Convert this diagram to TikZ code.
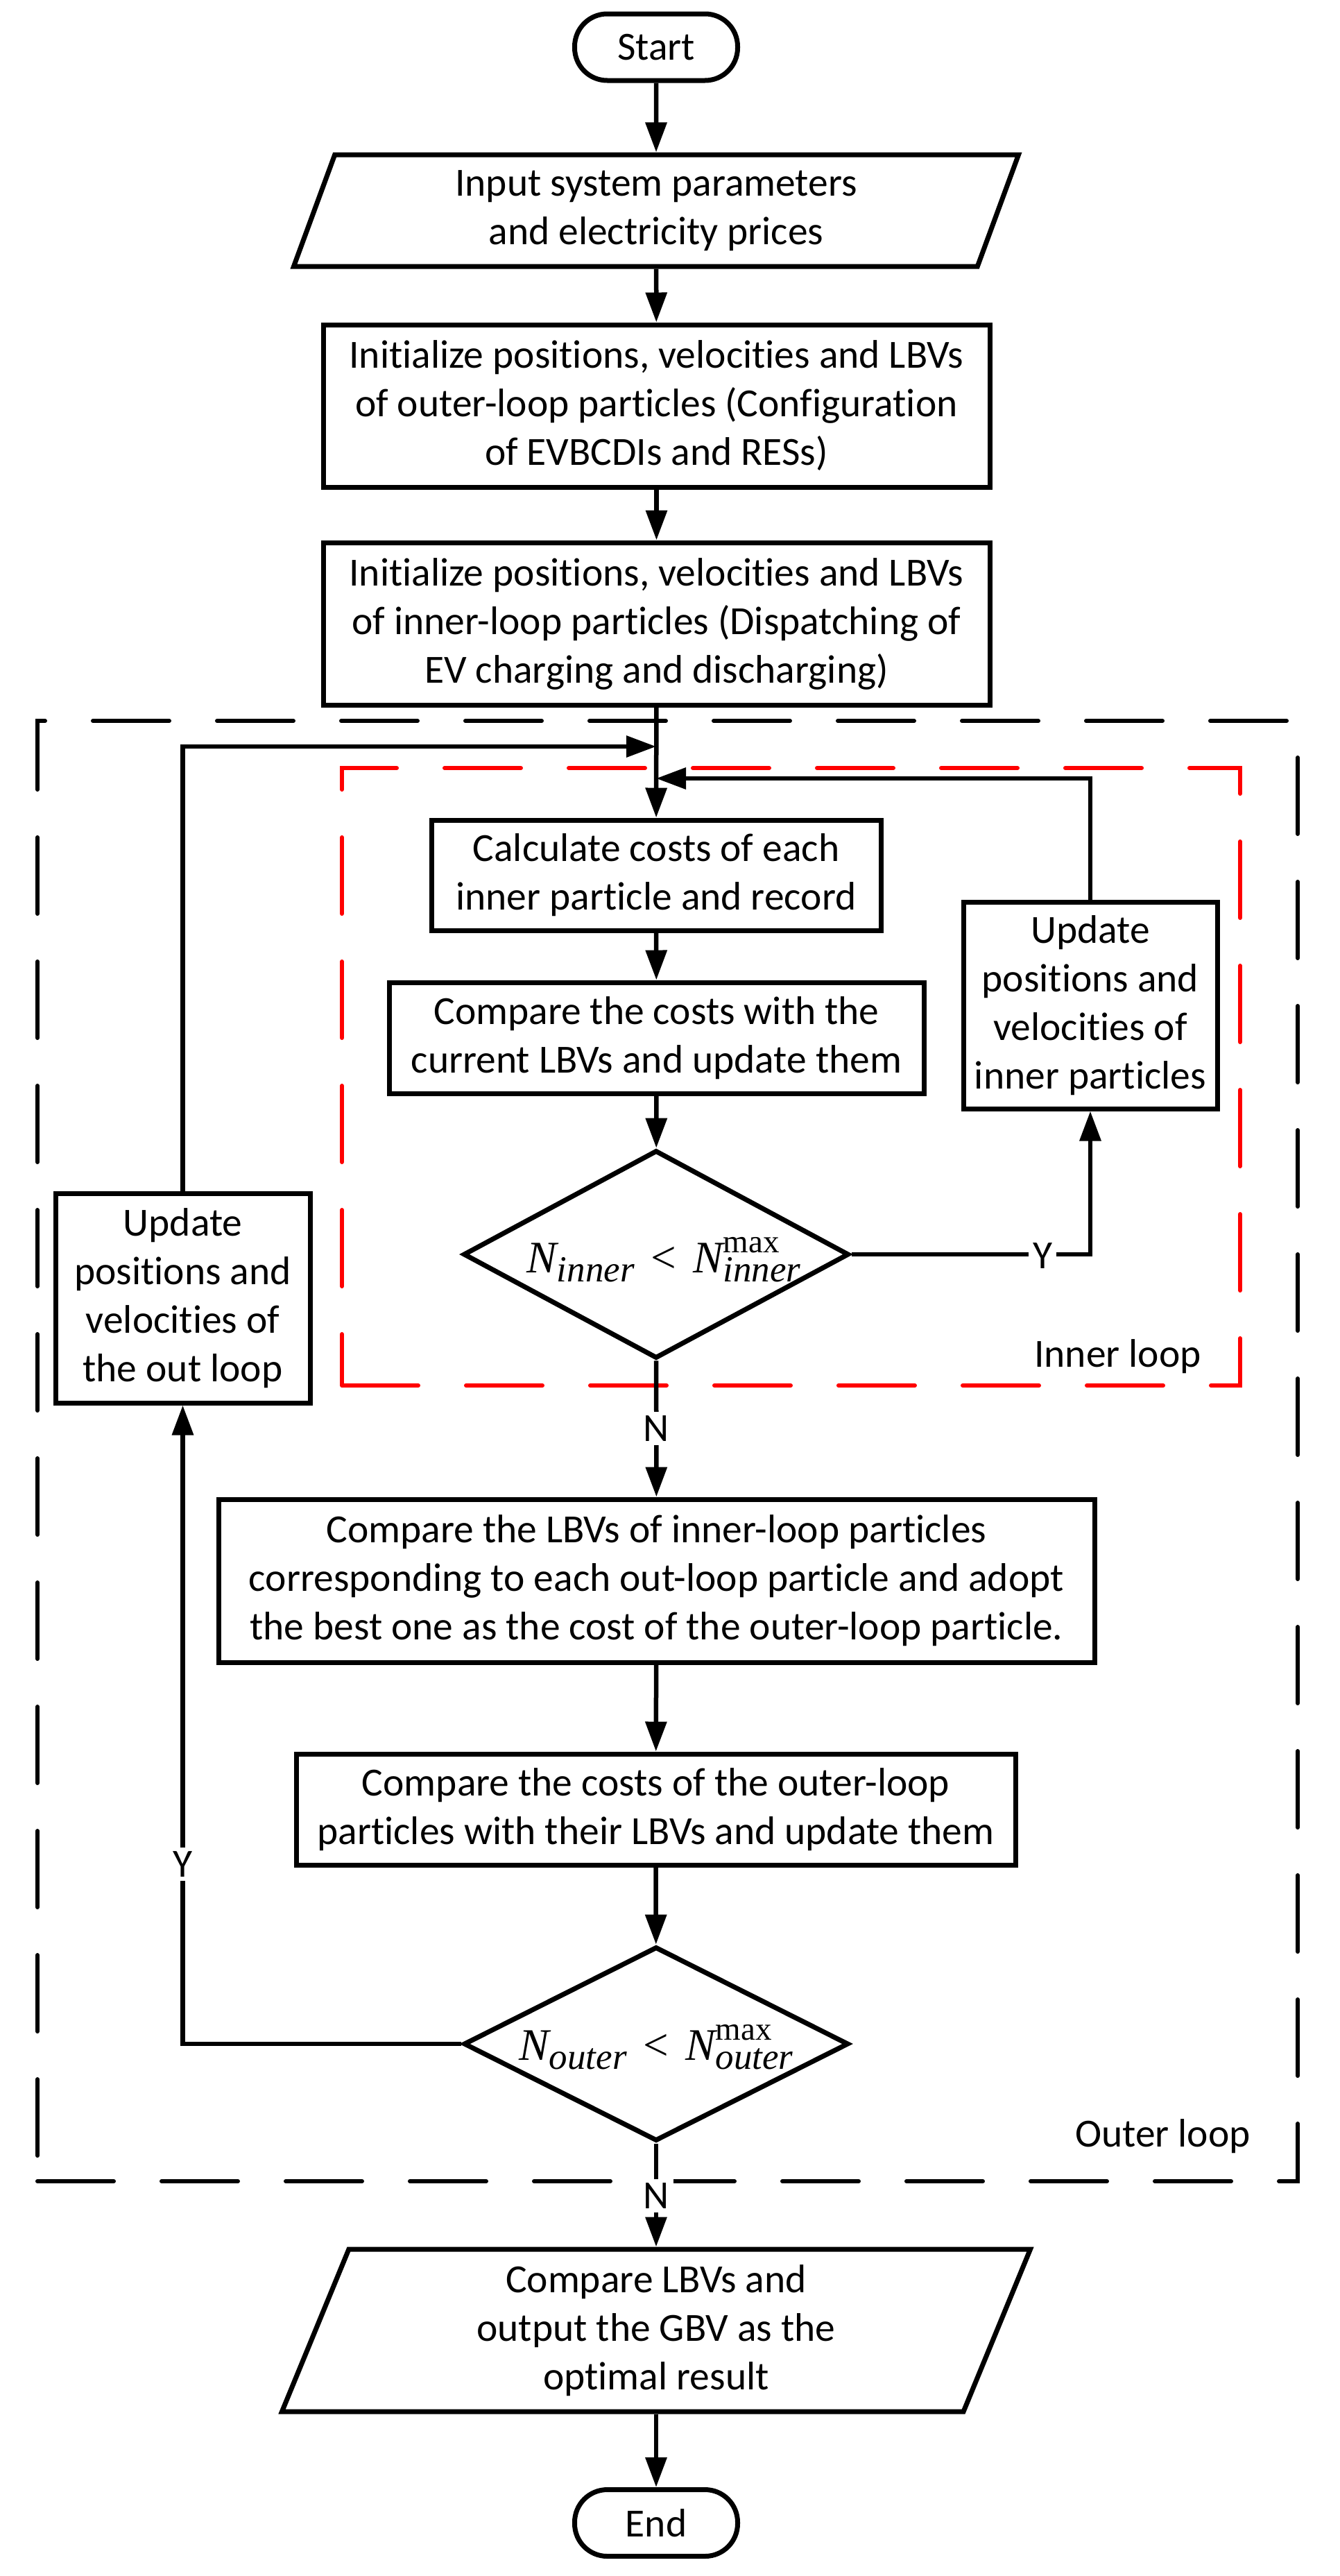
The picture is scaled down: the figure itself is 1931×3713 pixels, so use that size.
\documentclass[tikz,border=0pt]{standalone}
\usepackage{fontspec}
\setmainfont{Carlito}[Ligatures=NoCommon]
\newfontfamily\tnr{Liberation Serif}
\usetikzlibrary{shapes.geometric,arrows.meta}
\newcommand{\Nsym}[1]{{\tnr\itshape N}\raisebox{-13pt}{\fontsize{53}{53}\selectfont\tnr\itshape #1}}
\newcommand{\Nmax}[1]{{\tnr\itshape N}\rlap{\raisebox{29pt}{\fontsize{47}{47}\selectfont\tnr max}}\raisebox{-13pt}{\fontsize{53}{53}\selectfont\tnr\itshape #1}}
\begin{document}
\begin{tikzpicture}[x=1pt,y=-1pt]
    \useasboundingbox (0,0) rectangle (1931,3713);
    \tikzstyle{every node}=[font=\fontsize{57.5}{70}\selectfont, text=black, align=center, inner sep=0pt]
    \tikzstyle{box}=[rectangle, draw=black, line width=7pt, fill=white]
    \tikzstyle{term}=[box, rounded corners=47pt, minimum width=235pt, minimum height=96pt]
    \tikzstyle{io}=[trapezium, draw=black, line width=7pt, fill=white, trapezium left angle=63, trapezium right angle=117, trapezium stretches body]
    \tikzstyle{test}=[diamond, draw=black, line width=7pt, fill=white]
    \tikzstyle{cond}=[anchor=base, font=\fontsize{65}{70}\selectfont]
    \tikzstyle{edge}=[black, line width=6.5pt, -{Triangle[length=43pt,width=30pt]}]
    \tikzstyle{loopline}=[line width=6pt, dash pattern=on 110pt off 69pt, line cap=round]
    \tikzstyle{yn}=[fill=white, inner sep=6pt]

    % loop frames
    \draw[loopline, black] (54,3144) -- (1871,3144) -- (1871,1039) -- (54,1039) -- (54,3144);
    \draw[loopline, red] (493,1997) -- (1788,1997) -- (1788,1107) -- (493,1107) -- (493,1997);

    \node[term] (start) at (946,68) {Start};
    \node[io, minimum width=1045pt, minimum height=161pt] (input) at (946,303.5) {Input system parameters\\and electricity prices};
    \node[box, minimum width=961pt, minimum height=234pt] (outinit) at (946.5,585) {Initialize positions, velocities and LBVs\\of outer-loop particles (Configuration\\of EVBCDIs and RESs)};
    \node[box, minimum width=961pt, minimum height=234pt] (ininit) at (946.5,899) {Initialize positions, velocities and LBVs\\of inner-loop particles (Dispatching of\\EV charging and discharging)};
    \node[box, minimum width=648pt, minimum height=159pt] (calc) at (946,1261.5) {Calculate costs of each\\inner particle and record};
    \node[box, minimum width=771pt, minimum height=160pt] (cmp) at (946.5,1496) {Compare the costs with the\\current LBVs and update them};
    \node[test, minimum width=556pt, minimum height=300pt] (dinner) at (946,1808) {};
    \node[cond] (dinnertxt) at (957,1834) {\Nsym{inner}\hspace{24pt}{\tnr <}\hspace{24pt}\Nmax{inner}};
    \node[box, minimum width=366pt, minimum height=298pt] (updin) at (1572,1449) {Update\\positions and\\velocities of\\inner particles};
    \node[box, minimum width=367pt, minimum height=302pt] (updout) at (263.5,1871) {Update\\positions and\\velocities of\\the out loop};
    \node[box, minimum width=1263pt, minimum height=235pt] (lbv) at (946.5,2278.5) {Compare the LBVs of inner-loop particles\\corresponding to each out-loop particle and adopt\\the best one as the cost of the outer-loop particle.};
    \node[box, minimum width=1037pt, minimum height=160pt] (cost) at (945.5,2608) {Compare the costs of the outer-loop\\particles with their LBVs and update them};
    \node[test, minimum width=555pt, minimum height=280pt] (douter) at (946,2946) {};
    \node[cond] (doutertxt) at (946,2969) {\Nsym{outer}\hspace{24pt}{\tnr <}\hspace{24pt}\Nmax{outer}};
    \node[io, minimum width=1079pt, minimum height=234pt] (output) at (946,3359) {Compare LBVs and\\output the GBV as the\\optimal result};
    \node[term] (end) at (946,3636.5) {End};

    \coordinate (joinout) at (946,1076);
    \coordinate (joinin) at (946,1122);

    \draw[edge] (start) -- (input);
    \draw[edge] (input) -- (outinit);
    \draw[edge] (outinit) -- (ininit);
    \draw[edge] (ininit) -- (calc);
    \draw[edge] (calc) -- (cmp);
    \draw[edge] (cmp) -- (dinner);
    \draw[edge] (dinner.east) -| (updin);
    \draw[edge] (updin) |- (joinin);
    \draw[edge] (dinner) -- (lbv);
    \draw[edge] (lbv) -- (cost);
    \draw[edge] (cost) -- (douter);
    \draw[edge] (douter.west) -| (updout);
    \draw[edge] (updout) |- (joinout);
    \draw[edge] (douter) -- (output);
    \draw[edge] (output) -- (end);

    \node[yn] (yin) at (1503,1810) {Y};
    \node[yn] (nin) at (946,2059) {N};
    \node[yn] (yout) at (264,2687) {Y};
    \node[yn] (nout) at (946,3165) {N};
    \node[anchor=base east] (innerlbl) at (1732,1970) {Inner loop};
    \node[anchor=base east] (outerlbl) at (1803,3094) {Outer loop};
\end{tikzpicture}
\end{document}
